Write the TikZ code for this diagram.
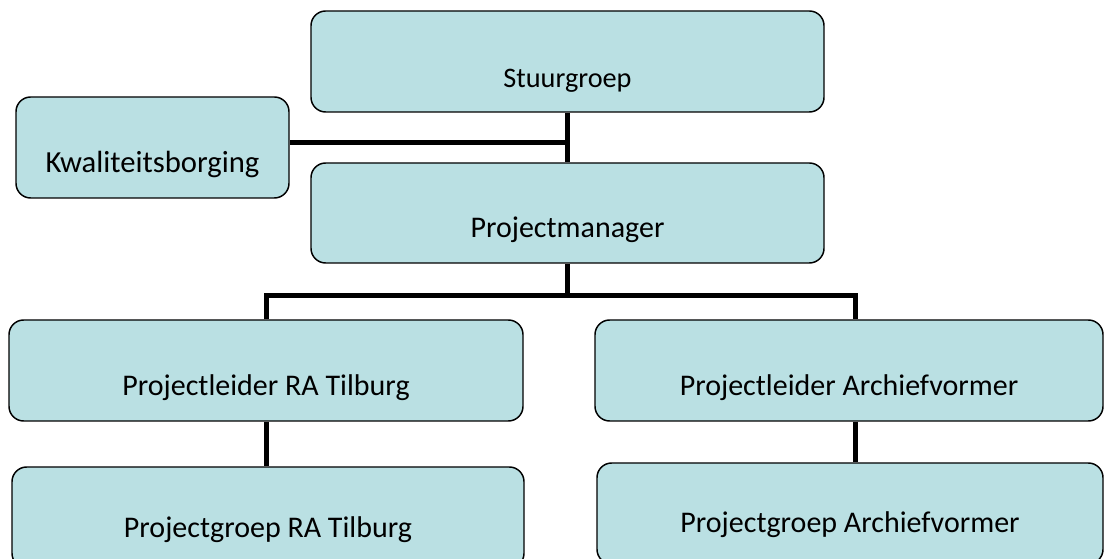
\documentclass[tikz,border=0pt]{standalone}
\usepackage{fontspec}
\setmainfont{Carlito}
\definecolor{boxblue}{RGB}{186,224,227}
\tikzset{
  orgbox/.style={draw, line width=1.1pt, rounded corners=11pt, fill=boxblue,
    minimum height=75.75pt, inner sep=2pt, text depth=0pt,
    font=\fontsize{22.5}{27}\selectfont},
  link/.style={line width=3.75pt},
}
\begin{document}
\begin{tikzpicture}[x=0.75pt,y=-0.75pt]
		\clip (0,0) rectangle (1104,559);
		
		\node[orgbox, minimum width=384.75pt, text height=39.75pt, font=\fontsize{21.2}{25}\selectfont] (stuur) at (567.5,61.5) {Stuurgroep};
		\node[orgbox, minimum width=204.75pt, text height=38.25pt, font=\fontsize{23}{27}\selectfont] (kwal) at (152.5,147.5) {Kwaliteitsborging};
		\node[orgbox, minimum width=384.75pt, minimum height=75pt, text height=37.5pt] (pm) at (567.5,213) {Projectmanager};
		
		\node[orgbox, minimum width=385.5pt, text height=38.25pt] (leadra) at (266,370.5) {Projectleider RA Tilburg};
		\node[orgbox, minimum width=381pt, text height=38.25pt] (leadar) at (849,370.5) {Projectleider Archiefvormer};
		\node[orgbox, minimum width=384pt, text height=30.75pt] (groupra) at (268,517.5) {Projectgroep RA Tilburg};
		\node[orgbox, minimum width=379.5pt, text height=29.25pt] (groupar) at (850,513.5) {Projectgroep Archiefvormer};
		
		\coordinate (kjoin) at (567.5,143);
		\coordinate (forkl) at (266,296); \coordinate (forkr) at (855,296);
		
		\draw[link] (stuur.south) -- (pm.north);
		\draw[link] (kjoin) -- (kjoin -| kwal.east);
		\draw[link] (pm.south) -- (pm.south |- forkl);
		\draw[link] (forkl |- leadra.north) -- (forkl) -- (forkr) -- (forkr |- leadar.north);
		\draw[link] (leadra.south) -- (leadra.south |- groupra.north);
		\draw[link] (forkr |- leadar.south) -- (forkr |- groupar.north);
\end{tikzpicture}
\end{document}
